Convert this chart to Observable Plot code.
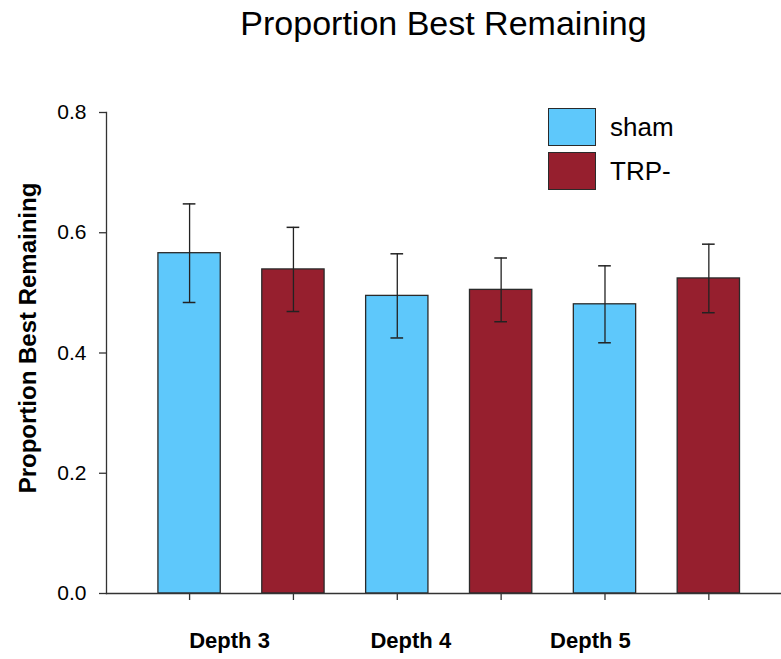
<!DOCTYPE html>
<html>
<head>
<meta charset="utf-8">
<script src="https://cdn.jsdelivr.net/npm/d3@7"></script>
<script src="https://cdn.jsdelivr.net/npm/@observablehq/plot@0.6"></script>
<style>
  html, body { margin: 0; padding: 0; background: #fff; }
  body { width: 781px; height: 659px; position: relative; overflow: hidden;
         font-family: "Liberation Sans", Arial, sans-serif; color: #000; }
  #title { height: 40px; box-sizing: border-box; padding-top: 7px; padding-left: 106px;
           text-align: center; font-size: 34px; line-height: 32px; }
  #ytitle { position: absolute; left: 28px; top: 338px; transform: translate(-50%, -50%) rotate(-90deg);
            white-space: nowrap; font-size: 24px; font-weight: bold; }
  #legend { position: absolute; left: 548px; top: 108px; }
  .item { display: flex; align-items: center; height: 38px; margin-bottom: 6px; }
  .sw { width: 48px; height: 38px; box-sizing: border-box; border: 1.5px solid #2a2a2a; }
  .lab { margin-left: 14px; font-size: 26px; }
</style>
</head>
<body>
<div id="title">Proportion Best Remaining</div>
<div id="chart"></div>
<div id="ytitle">Proportion Best Remaining</div>
<div id="legend"></div>
<script>
// ---- data ----
const depths = ["Depth 3", "Depth 4", "Depth 5"];
const groups = ["sham", "TRP-"];
const shamValues = [0.566, 0.495, 0.481];
const shamErrors = [0.082, 0.070, 0.064];
const trpValues = [0.539, 0.505, 0.524];
const trpErrors = [0.070, 0.053, 0.057];
const yTicks = [0, 0.2, 0.4, 0.6, 0.8];
const groupLabelX = [0.385, 2.13, 3.86]; // where the category labels sit, in bar-slot units
const colors = ["#5ec8fb", "#961f2e"];

// build table: bar slot index in order sham, TRP- per depth
const rows = [];
depths.forEach((d, i) => {
  rows.push({depth: d, group: "sham", value: shamValues[i], err: shamErrors[i], slot: rows.length});
  rows.push({depth: d, group: "TRP-", value: trpValues[i], err: trpErrors[i], slot: rows.length});
});
const half = 0.3, cap = 0.061;

const chart = Plot.plot({
  width: 781,
  height: 619,
  marginLeft: 106,
  marginRight: 1,
  marginTop: 72,
  marginBottom: 66,
  style: {fontFamily: '"Liberation Sans", Arial, sans-serif', fontSize: "21px", color: "#000", background: "#fff"},
  x: {domain: [-0.8, 5.69], label: null},
  y: {domain: [0, 0.8], label: null},
  color: {domain: groups, range: colors},
  marks: [
    Plot.rectY(rows, {x1: d => d.slot - half, x2: d => d.slot + half, y1: 0, y2: "value",
                      fill: "group", stroke: "#2a2a2a", strokeWidth: 1.3}),
    Plot.ruleX(rows, {x: "slot", y1: d => d.value - d.err, y2: d => d.value + d.err, stroke: "#222", strokeWidth: 1.3}),
    Plot.ruleY(rows, {y: d => d.value + d.err, x1: d => d.slot - cap, x2: d => d.slot + cap, stroke: "#222", strokeWidth: 1.5}),
    Plot.ruleY(rows, {y: d => d.value - d.err, x1: d => d.slot - cap, x2: d => d.slot + cap, stroke: "#222", strokeWidth: 1.5}),
    Plot.frame({anchor: "left", stroke: "#333", strokeWidth: 1.3}),
    Plot.frame({anchor: "bottom", stroke: "#333", strokeWidth: 1.3}),
    Plot.axisY({ticks: yTicks, tickFormat: d3.format(".1f"), tickSize: 7, tickPadding: 13,
                stroke: "#333", strokeWidth: 1.3, label: null, fontSize: 21}),
    Plot.axisX({ticks: rows.map(d => d.slot), tickSize: 7, tickFormat: () => "",
                stroke: "#333", strokeWidth: 1.3, label: null}),
    Plot.axisX({ticks: groupLabelX, tickSize: 0, tickPadding: 39, tickFormat: (d, i) => depths[i],
                label: null, fontSize: 22, fontWeight: "bold"})
  ]
});
document.getElementById("chart").appendChild(chart);

const legend = document.getElementById("legend");
groups.forEach((g, i) => {
  const item = document.createElement("div");
  item.className = "item";
  const sw = document.createElement("div");
  sw.className = "sw";
  sw.style.background = colors[i];
  const lab = document.createElement("div");
  lab.className = "lab";
  lab.textContent = g;
  item.appendChild(sw); item.appendChild(lab);
  legend.appendChild(item);
});
</script>
</body>
</html>
